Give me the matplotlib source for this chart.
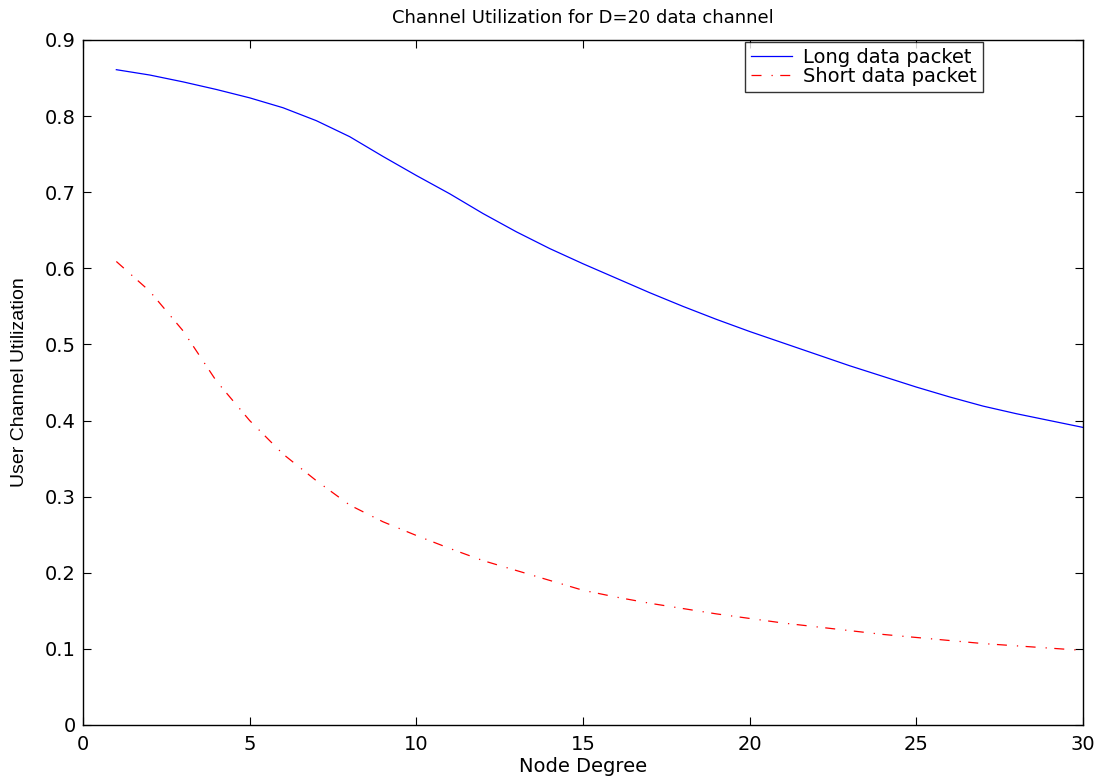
import matplotlib
matplotlib.use("Agg")
import matplotlib.pyplot as plt

node_degree = list(range(1, 31))
long_packet = [0.861, 0.854, 0.845, 0.835, 0.824, 0.811, 0.794, 0.773, 0.747, 0.722,
               0.698, 0.672, 0.648, 0.626, 0.606, 0.587, 0.568, 0.550, 0.533, 0.517,
               0.502, 0.487, 0.472, 0.458, 0.444, 0.431, 0.419, 0.409, 0.400, 0.391]
short_packet = [0.609, 0.570, 0.518, 0.452, 0.400, 0.356, 0.321, 0.289, 0.267, 0.249,
                0.232, 0.216, 0.203, 0.190, 0.177, 0.168, 0.160, 0.153, 0.146, 0.140,
                0.134, 0.129, 0.124, 0.119, 0.115, 0.111, 0.107, 0.104, 0.101, 0.098]

x_ticks = [0, 5, 10, 15, 20, 25, 30]
y_ticks = [0, 0.1, 0.2, 0.3, 0.4, 0.5, 0.6, 0.7, 0.8, 0.9]
y_ticklabels = ["0", "0.1", "0.2", "0.3", "0.4", "0.5", "0.6", "0.7", "0.8", "0.9"]

plt.rcParams['font.family'] = ['DejaVu Sans']

fig = plt.figure(figsize=(10.99, 7.80), dpi=100)
ax = fig.add_axes([83/1099, 55/780, 1000/1099, 685/780])

ax.plot(node_degree, long_packet, color=(0, 0, 1), linewidth=0.9, label="Long data packet")
ax.plot(node_degree, short_packet, color=(1, 0, 0), linewidth=0.9,
        linestyle=(0, (8, 8, 1, 6)), label="Short data packet")

ax.set_xlim(0, 30)
ax.set_ylim(0, 0.9)
ax.set_xticks(x_ticks)
ax.set_yticks(y_ticks)
ax.set_yticklabels(y_ticklabels)
ax.tick_params(direction='in', top=True, right=True, length=6, width=0.8,
               labelsize=14)
ax.tick_params(axis='y', pad=5)
ax.tick_params(axis='x', pad=7)
for s in ax.spines.values():
    s.set_linewidth(1.0)

ax.set_title("Channel Utilization for D=20 data channel", fontsize=13, pad=12)
ax.set_xlabel("Node Degree", fontsize=14, labelpad=2)
ax.set_ylabel("User Channel Utilization", fontsize=14, labelpad=12,
              family=['Liberation Sans', 'DejaVu Sans'])

leg = ax.legend(loc='upper right', bbox_to_anchor=(0.900, 0.997), fontsize=14,
                frameon=True, fancybox=False, edgecolor='black',
                handlelength=2.1, borderpad=0.3, labelspacing=0.0,
                handletextpad=0.6, borderaxespad=0)
leg.get_frame().set_linewidth(1.0)

fig.savefig("out.png", dpi=100)
